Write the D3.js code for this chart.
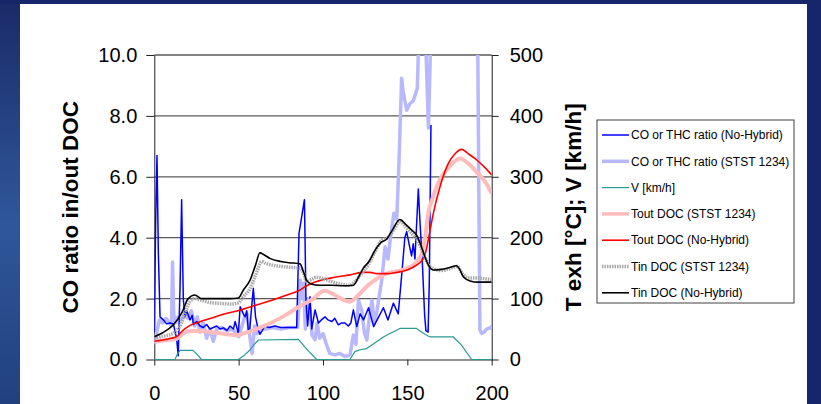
<!DOCTYPE html>
<html>
<head>
<meta charset="utf-8">
<script src="https://cdn.jsdelivr.net/npm/d3@7"></script>
<style>
  html, body { margin: 0; padding: 0; background: #1a2c6c; overflow: hidden; }
  svg { display: block; font-family: "Liberation Sans", Arial, sans-serif; }
</style>
</head>
<body>
<div id="chart"></div>
<script>
// tick values
var xTicks = [0, 50, 100, 150, 200];
var leftTicks = [0, 2, 4, 6, 8, 10];
var rightTicks = [0, 100, 200, 300, 400, 500];

// CO or THC ratio (left axis), [time, ratio]
var coNoHybrid = [[0,0.9],[0.8,4.5],[1.6,6.7],[2.4,3.5],[3.4,1.4],[5.4,1.3],[7.3,1.17],[9.3,1.2],[11.3,1.17],[13.2,0.7],
  [14.2,0.12],[15.3,2.5],[16.2,5.25],[17.2,1.97],[18.2,1.4],[19.2,1.6],[21.2,1.3],[22.5,1.45],[23.2,1.15],[25.1,1.25],
  [27.1,1.1],[29,1.05],[31,1.15],[33,1.0],[35,1.05],[37,1.1],[39,1.0],[41,1.04],[43,0.95],[44.9,1.1],[46.9,1.0],
  [47.9,1.25],[48.9,1.05],[49.8,0.85],[50.9,1.73],[52.8,1.5],[53.8,1.4],[54.8,1.6],[55.8,0.9],[56.6,1.0],[57.7,1.73],
  [58.7,2.34],[60,1.4],[61.6,0.98],[62.6,0.83],[64,0.95],[65.5,1.1],[68,1.05],[71.5,1.1],[75,1.05],[79.4,1.05],
  [84.4,1.05],[85.8,4.15],[87.4,4.7],[89,5.25],[89.9,1.95],[90.9,1.1],[92.3,2.06],[93.3,1.0],[95.3,1.63],[97.3,1.2],
  [99,1.3],[101.2,1.4],[103,1.3],[105.2,1.25],[107,1.35],[109.1,1.14],[111,1.2],[113,1.2],[115,1.1],[116.5,1.2],
  [118,1.63],[120,1.08],[122,1.5],[124,1.3],[127,1.7],[130,1.08],[133,1.4],[135.8,1.7],[138.5,1.3],[141.7,1.85],
  [144.6,1.5],[147,3.0],[148.5,4.0],[149.6,4.2],[151,3.8],[152.5,3.4],[153.5,3.8],[154.5,3.3],[156.5,5.6],[157.5,4.5],
  [158.8,3.3],[160.2,1.5],[161,0.95],[162.3,0.9],[163,2.5],[164,7.7]];

var coStst = [[0,0.5],[1.5,0.9],[3,1.3],[5,1.2],[7,1.35],[9,1.2],[10.2,1.1],[10.8,3.2],[11.5,1.5],[12.5,1.2],[14,1.4],
  [16,1.3],[18,1.5],[20,1.35],[22,1.6],[24,1.1],[25.5,1.4],[27,0.9],[29,1.2],[31,0.7],[33,1.0],[35,0.6],[37,1.0],
  [40,1.05],[43,0.95],[46,1.0],[48,0.9],[50,0.75],[52,1.1],[53.5,1.4],[55,1.5],[56.5,0.8],[58,0.2],[59.5,1.1],
  [61,0.85],[63,1.05],[66,1.0],[70,1.05],[75,1.0],[80,1.05],[85,1.05],[86.5,2.6],[87.5,2.0],[88.5,2.5],[89.5,1.0],
  [90.6,2.0],[92.3,1.65],[93.5,0.8],[95.3,0.65],[96.5,1.2],[98,0.7],[100,0.85],[102,0.5],[104,0.2],[107,0.15],
  [110,0.2],[113,0.1],[116,0.15],[118,0.8],[119.5,0.5],[121,1.95],[123,1.6],[124.5,0.9],[126,0.64],[127.5,1.4],
  [129,1.95],[130.5,1.2],[132,1.6],[134.8,2.6],[136.8,3.7],[138.5,3.3],[140,4.0],[142,4.8],[143.7,4.6],[145,6.4],
  [146.6,9.24],[147.5,8.8],[149.6,8.19],[151.5,8.4],[153.5,8.5],[155.9,8.9],[157,11],[160,12],[162.5,7.6],[164.5,12],
  [180,12],[191.5,12],[193,0.97],[194,0.86],[195.5,0.9],[197,1.0],[199.3,1.05],[200,1.1]];

// right axis series, [time, value]
var speed = [[0,0],[12.3,0],[13.5,8],[15.3,15],[23,15],[25.5,8],[28,0],[49.8,0],[53,6],[56.7,15.6],[59,24],[61.7,32],
  [85.4,33],[91,15],[96.3,0],[116,0],[118.9,13],[122,16],[125.9,18],[130,26],[135.8,37],[140,43],[145.6,51],
  [155.5,51],[159,44],[163.4,37],[177.2,37],[182,24],[188.1,0],[200,0]];

var toutStst = [[0,29],[5,31],[10,33],[13.3,34],[16,40],[19.2,46],[23,47],[27.1,47],[33,45],[39,43],[44,41],[48.8,40],
  [53,43],[58.7,48],[64,54],[70.5,62],[76,70],[82.4,81],[88,90],[94.3,100],[98,109],[101,113],[105,109],[110,101],
  [116,95],[120,103],[125.9,120],[130,129],[135.8,139],[140,143],[145.6,146],[150,150],[153.6,155],[156,162],
  [158.5,174],[160.5,200],[162.4,240],[165,265],[167.4,284],[170,299],[173.3,311],[177,323],[181.2,330],[186,322],
  [191,308],[196,292],[200,273]];

var toutNoHybrid = [[0,30],[5,32],[10,35],[13.3,37.5],[16.2,46],[21.2,56],[27.1,62],[35,69],[42,75],[50.8,81],[60,89],
  [70.5,98],[80,107],[86.4,114],[90.3,121],[96.2,128],[105,134],[116,139],[123.9,143],[128,143],[131.8,141],[138,141],
  [143.6,143],[149,146],[153.6,152],[157,158],[159.5,166],[161,178],[162.4,196],[164,220],[165.4,240],[169.4,284],
  [174.3,322],[178,337],[182.2,345],[186,338],[191,328],[196,315],[200,303]];

var tinStst = [[0,35],[5,38],[11.3,43],[14,50],[16.2,60],[18,75],[21.2,95],[24,100],[27,98],[32,94],[40,92],[46,91],
  [50,93],[53,104],[56.7,116],[60,138],[63.7,161],[66,158],[70,155],[78,152],[86.4,150],[88.5,142],[90.3,128],[93,131],
  [96,135],[100,133],[105,128],[110,124],[116,122],[119,128],[123,142],[127,156],[131,178],[134.8,196],[138.5,200],
  [142,213],[145.6,227],[149,218],[153,206],[156,196],[159,178],[162,158],[165.4,149],[170,146],[175,149],[179.5,153],
  [183,140],[186,134],[190,134],[195,133],[200,131]];

var tinNoHybrid = [[0,37.5],[5,44],[11.3,57],[16.2,76],[20.1,100],[24.1,106],[28,100],[35,100],[45,100],[49.8,101],
  [53,115],[56.7,130],[60,155],[62.6,175],[65,172],[68.5,166],[75,161],[80,159],[86.4,157],[88.3,145],[90.3,130],
  [93,124],[98,122],[105,122],[112,121],[118,122],[121,135],[123.9,150],[127,160],[131,180],[134.8,193],[137.5,197],
  [141,212],[145.6,230],[149,222],[152,214],[155.5,204],[158,188],[160.4,169],[162.5,155],[165.4,147],[170,148],
  [175,151],[179.2,154],[181,148],[183.2,136],[187.2,129],[192,127],[200,127]];

var W = 821, H = 404;

var svg = d3.select("#chart").append("svg")
    .attr("width", W)
    .attr("height", H);

// slide background
var defs = svg.append("defs");
var bg = defs.append("linearGradient").attr("id", "bg")
    .attr("x1", 0).attr("y1", 0).attr("x2", 0).attr("y2", 1);
bg.append("stop").attr("offset", "0%").attr("stop-color", "#1a2a68");
bg.append("stop").attr("offset", "55%").attr("stop-color", "#2f579a");
bg.append("stop").attr("offset", "100%").attr("stop-color", "#21407f");
svg.append("rect").attr("width", W).attr("height", H).attr("fill", "url(#bg)");
svg.append("rect").attr("x", 807).attr("width", 14).attr("height", H).attr("fill", "#17256a");
svg.append("rect").attr("width", W).attr("height", 4).attr("fill", "#17256a");
svg.append("rect")
    .attr("x", 20).attr("y", 4)
    .attr("width", 787).attr("height", H - 4)
    .attr("fill", "#ffffff");

var x = d3.scaleLinear().domain([0, 200]).range([154.3, 491.7]);
var yL = d3.scaleLinear().domain([0, 10]).range([359.5, 55]);
var yR = d3.scaleLinear().domain([0, 500]).range([359.5, 55]);

defs.append("clipPath").attr("id", "plot")
    .append("rect")
    .attr("x", x(0)).attr("y", yL(10))
    .attr("width", x(200) - x(0)).attr("height", yL(0) - yL(10) + 2);

// gridlines
svg.append("g").selectAll("line")
    .data(leftTicks.filter(function (d) { return d > 0; }))
    .enter().append("line")
    .attr("x1", x(0)).attr("x2", x(200))
    .attr("y1", function (d) { return yL(d); })
    .attr("y2", function (d) { return yL(d); })
    .attr("stroke", "#5a5a5a")
    .attr("stroke-width", 1.3);

// axes
var gl = svg.append("g")
    .attr("transform", "translate(" + x(0) + ",0)")
    .call(d3.axisLeft(yL).tickValues(leftTicks).tickFormat(d3.format(".1f"))
        .tickSize(8).tickSizeOuter(0).tickPadding(9));
var gr = svg.append("g")
    .attr("transform", "translate(" + x(200) + ",0)")
    .call(d3.axisRight(yR).tickValues(rightTicks).tickFormat(d3.format("d"))
        .tickSize(7).tickSizeOuter(0).tickPadding(11));
var gb = svg.append("g")
    .attr("transform", "translate(0," + yL(0) + ")")
    .call(d3.axisBottom(x).tickValues(xTicks).tickFormat(d3.format("d"))
        .tickSize(6).tickSizeOuter(0).tickPadding(20));

[gl, gr, gb].forEach(function (g) {
    g.selectAll("text")
        .attr("font-family", "'Liberation Sans', Arial, sans-serif")
        .attr("font-size", 20)
        .attr("fill", "#000");
    g.selectAll("line").attr("stroke", "#222");
    g.select(".domain").attr("stroke", "#222");
});

// axis titles
svg.append("text")
    .attr("transform", "translate(78," + (yL(5)) + ") rotate(-90)")
    .attr("text-anchor", "middle")
    .attr("font-size", 22.5)
    .attr("font-weight", "bold")
    .text("CO ratio in/out DOC");

svg.append("text")
    .attr("transform", "translate(581," + (yL(5)) + ") rotate(-90)")
    .attr("text-anchor", "middle")
    .attr("font-size", 22.5)
    .attr("font-weight", "bold")
    .text("T exh [°C]; V [km/h]");

// series
var series = [
    { name: "CO or THC ratio (STST 1234)", data: coStst, axis: yL, color: "#b8b8ff", width: 3.5, curve: d3.curveLinear },
    { name: "CO or THC ratio (No-Hybrid)", data: coNoHybrid, axis: yL, color: "#0000ff", width: 1.5, curve: d3.curveLinear },
    { name: "V [km/h]", data: speed, axis: yR, color: "#2a9a92", width: 1.2, curve: d3.curveLinear },
    { name: "Tout DOC (STST 1234)", data: toutStst, axis: yR, color: "#ffbcbc", width: 4, curve: d3.curveMonotoneX },
    { name: "Tout DOC (No-Hybrid)", data: toutNoHybrid, axis: yR, color: "#ff0000", width: 1.6, curve: d3.curveMonotoneX },
    { name: "Tin DOC (STST 1234)", data: tinStst, axis: yR, color: "#a8a8a8", width: 3.5, dash: "1.5,1", curve: d3.curveMonotoneX },
    { name: "Tin DOC (No-Hybrid)", data: tinNoHybrid, axis: yR, color: "#000000", width: 1.6, curve: d3.curveMonotoneX }
];

var plot = svg.append("g").attr("clip-path", "url(#plot)");

series.forEach(function (s) {
    var line = d3.line()
        .x(function (d) { return x(d[0]); })
        .y(function (d) { return s.axis(d[1]); })
        .curve(s.curve);
    plot.append("path")
        .datum(s.data)
        .attr("fill", "none")
        .attr("stroke", s.color)
        .attr("stroke-width", s.width)
        .attr("stroke-linejoin", "round")
        .attr("stroke-dasharray", s.dash || null)
        .attr("d", line);
});

// legend
var legendOrder = [1, 0, 2, 3, 4, 5, 6];
var legend = svg.append("g");
legend.append("rect")
    .attr("x", 597).attr("y", 120)
    .attr("width", 197).attr("height", 183)
    .attr("fill", "#fff")
    .attr("stroke", "#404040")
    .attr("stroke-width", 1);

var items = legend.selectAll(".item")
    .data(legendOrder.map(function (i) { return series[i]; }))
    .enter().append("g")
    .attr("transform", function (d, i) { return "translate(0," + (135 + i * 26.3) + ")"; });

items.append("line")
    .attr("x1", 602).attr("x2", 629)
    .attr("stroke", function (d) { return d.color; })
    .attr("stroke-width", function (d) { return Math.min(d.width, 3.5); })
    .attr("stroke-dasharray", function (d) { return d.dash || null; });

items.append("text")
    .attr("x", 631)
    .attr("dy", "0.35em")
    .attr("font-size", 12)
    .attr("fill", "#000")
    .text(function (d) { return d.name; });
</script>
</body>
</html>
